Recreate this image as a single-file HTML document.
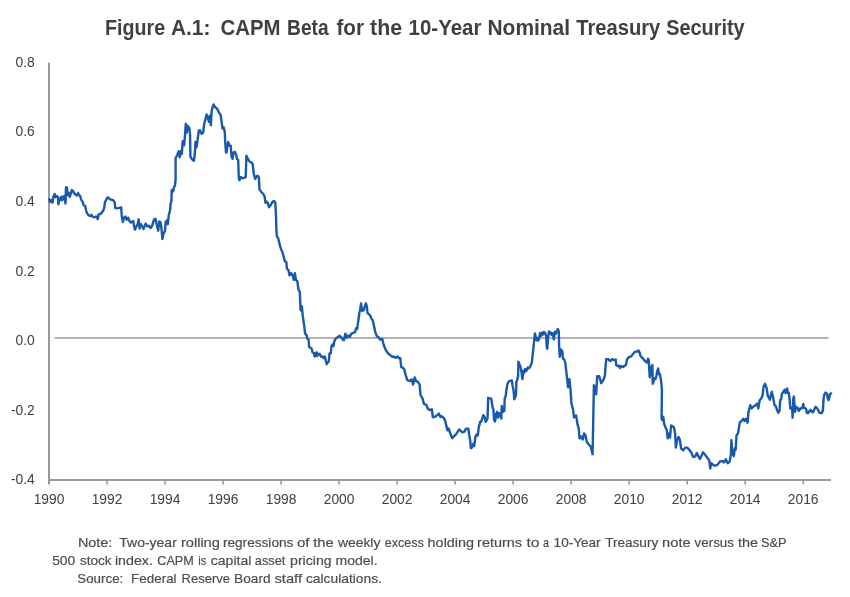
<!DOCTYPE html>
<html><head><meta charset="utf-8">
<style>
html,body{margin:0;padding:0;background:#fff;}
body{width:850px;height:597px;position:relative;overflow:hidden;font-family:"Liberation Sans",sans-serif;}
svg{position:absolute;left:0;top:0;will-change:transform;}
.ax{font-family:"Liberation Sans",sans-serif;font-size:13.8px;fill:#404040;}
.tt{font-family:"Liberation Sans",sans-serif;font-weight:bold;font-size:21.3px;fill:#404040;}
.nt{font-family:"Liberation Sans",sans-serif;font-size:13.5px;fill:#4d4d4d;stroke:#4d4d4d;stroke-width:0.2px;}
</style></head>
<body>
<svg width="850" height="597" viewBox="0 0 850 597">
<text x="105.1" y="35" class="tt" textLength="60.0" lengthAdjust="spacingAndGlyphs">Figure</text>
<text x="170.9" y="35" class="tt" textLength="39.5" lengthAdjust="spacingAndGlyphs">A.1:</text>
<text x="220.6" y="35" class="tt" textLength="60.0" lengthAdjust="spacingAndGlyphs">CAPM</text>
<text x="287.1" y="35" class="tt" textLength="41.5" lengthAdjust="spacingAndGlyphs">Beta</text>
<text x="336.5" y="35" class="tt" textLength="27.5" lengthAdjust="spacingAndGlyphs">for</text>
<text x="370.1" y="35" class="tt" textLength="32.0" lengthAdjust="spacingAndGlyphs">the</text>
<text x="408.5" y="35" class="tt" textLength="73.0" lengthAdjust="spacingAndGlyphs">10-Year</text>
<text x="487.5" y="35" class="tt" textLength="82.5" lengthAdjust="spacingAndGlyphs">Nominal</text>
<text x="576.3" y="35" class="tt" textLength="84.0" lengthAdjust="spacingAndGlyphs">Treasury</text>
<text x="666.2" y="35" class="tt" textLength="78.5" lengthAdjust="spacingAndGlyphs">Security</text>
<line x1="49" y1="62.8" x2="49" y2="484.4" stroke="#999999" stroke-width="2"/>
<line x1="48" y1="480" x2="831" y2="480" stroke="#999999" stroke-width="2"/>
<line x1="107.02" y1="480" x2="107.02" y2="484.4" stroke="#999999" stroke-width="1.6"/>
<line x1="165.03" y1="480" x2="165.03" y2="484.4" stroke="#999999" stroke-width="1.6"/>
<line x1="223.05" y1="480" x2="223.05" y2="484.4" stroke="#999999" stroke-width="1.6"/>
<line x1="281.06" y1="480" x2="281.06" y2="484.4" stroke="#999999" stroke-width="1.6"/>
<line x1="339.08" y1="480" x2="339.08" y2="484.4" stroke="#999999" stroke-width="1.6"/>
<line x1="397.10" y1="480" x2="397.10" y2="484.4" stroke="#999999" stroke-width="1.6"/>
<line x1="455.11" y1="480" x2="455.11" y2="484.4" stroke="#999999" stroke-width="1.6"/>
<line x1="513.13" y1="480" x2="513.13" y2="484.4" stroke="#999999" stroke-width="1.6"/>
<line x1="571.14" y1="480" x2="571.14" y2="484.4" stroke="#999999" stroke-width="1.6"/>
<line x1="629.16" y1="480" x2="629.16" y2="484.4" stroke="#999999" stroke-width="1.6"/>
<line x1="687.18" y1="480" x2="687.18" y2="484.4" stroke="#999999" stroke-width="1.6"/>
<line x1="745.19" y1="480" x2="745.19" y2="484.4" stroke="#999999" stroke-width="1.6"/>
<line x1="803.21" y1="480" x2="803.21" y2="484.4" stroke="#999999" stroke-width="1.6"/>
<line x1="54.6" y1="338" x2="828.6" y2="338" stroke="#b3b3b3" stroke-width="2"/>
<polyline points="49.2,199.3 50,201.8 51.3,200.1 52.5,202.7 53.4,196.8 54.6,193.9 55.5,197.2 56.7,196 58,197.2 58.4,204.3 59.2,198.5 60.5,200.1 61.3,196.8 62.2,200.1 63,196.8 64.3,196 65.5,203.5 66,187.2 67,187.6 67.5,195.1 68.5,192.6 69.7,196.8 70.6,194.3 71.8,190.1 73.1,190.9 74.3,193.4 75.6,194.7 76.9,195.5 78.1,193 79,195.1 80.2,196 81,199.3 82.7,201.8 83.6,205.2 85.2,206 86.1,210.2 86.9,213.1 88.6,215.2 90.3,216.1 91.5,214.8 92.8,216.9 94.5,217.3 96.1,216.5 97.8,219 98.6,214.4 100.3,214 101.6,212.8 103.3,210.6 104.4,206.8 104.9,202.4 106,200.2 107.6,197.2 109.3,198.6 110.9,199.7 113.1,200.2 114.7,202.4 115.2,207.9 116.9,208.4 119.1,207.9 121.2,207.3 121.8,216.6 122.9,222 124,217.7 125.6,216.6 126.7,219.8 128.3,217.7 129.4,220.9 131,222.6 133.2,220.9 134.8,229.6 136.5,226.4 137.6,224.2 138.7,219.3 139.7,228.5 140.8,224.2 142.5,226.4 143.5,229.1 145.7,223.6 147.4,226.4 149,225.8 150.6,228 152.3,225.3 153.9,219.8 155.5,218.8 156.6,224.2 158.2,230.7 159.3,221.5 160.4,222 161.5,228.5 162.4,239.1 163.6,233.4 165,231.2 165.7,222 166.8,220.6 167.8,224.1 168.8,214.9 170,210.6 170.7,203.5 171.4,200.6 171.8,189.9 173.1,191.4 174,187.1 175,185.7 175.6,179.2 175.6,158 177.4,154.7 178.7,151.3 179.7,157.3 180.7,151.3 181.8,154 182.7,141.2 184.1,145.3 185,135.2 185.8,123.8 186.8,132.5 187.7,125.8 189.4,128.5 190.1,135.2 190.4,156.7 192.1,159.3 193.9,160.7 194.8,154 195.5,141.9 196.5,147.3 197.5,140.6 198.8,130.5 200.2,130.5 201.5,133.9 203.2,132.5 204.2,123.8 205.5,119.1 206.5,114.4 207.8,117.8 208.9,121.8 209.8,115.8 210.9,125.2 211.6,111.1 212.6,107.1 213.6,104.4 214.9,107.1 216.9,108.4 218.9,112.4 220.7,115.1 221.6,121.8 222.5,128.5 223.6,127.2 224.7,131.2 225.2,141.9 226,152.6 226.5,152.6 228.1,141.9 229.4,145.7 230.7,145.7 231.5,156.3 232.5,158.8 233.5,152.6 235,151.9 236.3,155.1 236.9,158.8 238.2,160.1 238.8,177.7 239.4,180.2 240.7,177.1 242.6,178.3 244.5,177.7 245.7,177.1 246.4,155.7 247.6,158.2 248.9,160.7 250.1,162 251.6,162.6 252.6,163.9 253.9,174.5 255.2,178.9 256.4,176.4 257.9,175.8 258.9,177.7 259.5,189.6 261.4,192.1 263.3,194 264.6,196.5 265.5,202.8 266.5,201.6 267.7,202.8 269,207.2 270.9,204.7 272.7,201.6 274,201 275.3,203 276,215.1 276.3,227.1 276.8,236.2 278.3,238.4 279.8,245.2 281.3,249.8 282.4,252 283.6,256.5 284.8,261.1 286.3,261.8 286.9,268.6 288.4,270.1 289.6,275.4 291.1,273.1 292.6,275.4 293.8,279.9 294.9,273.1 295.9,279.9 297.4,281.4 298.3,289 299.8,292.1 300.6,310.2 301.8,306.4 302.8,316.2 304.3,326.7 304.7,330 305,333.4 306.7,335.4 307.4,338.7 308.7,340 309,346.8 310.7,348.1 311.7,348.8 312.4,352.1 313.7,353.1 314.7,356.5 315.7,352.8 316.8,352.4 317.1,356.1 318.1,354.1 319.4,353.8 320.1,354.8 321.1,356.8 322.4,356.5 323.5,358.1 324.8,356.5 325.8,360.8 326.7,364.2 327.8,362.2 328.8,361.5 329.5,353.5 330.8,353.1 331.5,346.1 332.5,344.4 333.5,346.1 334.2,341.7 334.8,340.4 336.2,338 337.5,337.4 339.2,336 339.8,335.8 341.3,337.3 342.8,339.6 343.8,340.3 345.4,333.6 346.7,337.6 348.3,335.6 349.7,336.9 351.4,333.6 353.4,332.9 355,332.2 356.1,328.2 357.2,328.9 358.1,322.2 359.4,312.8 360.1,310.1 361,303.4 362.1,310.8 363.9,310.1 364.8,306.1 365.9,303.4 366.8,306.1 367.5,312.8 368.8,314.1 370.2,315.5 371.5,318.8 372.8,320.2 374.2,326.9 375.5,332.9 376.9,336.2 378.9,337.6 380.2,339.6 382.2,338.9 383.2,343 384.2,346.3 385.6,349.7 386.9,351.7 388.3,353.7 390.3,355 392.3,357 393.6,356.4 395.6,357.7 397.6,356.4 399,358.2 400.3,358.2 401.2,367 402.9,367.9 404.1,368.7 405.6,374.9 407.3,380.2 410,381.1 411.7,379.3 413.1,384.6 414.7,377.5 416.1,381.1 417.9,381.9 419.6,384.6 420.5,395.1 422.3,397.8 424,403.9 426.3,404.8 428.1,409.2 430.2,410.1 431.9,409.2 432.8,417.1 434.6,417.1 437.2,415.3 439,413.6 440.4,417.1 441.6,416.2 443.9,418 445.1,420.6 446.4,425.9 447.4,430.3 448.6,428.5 450.4,433.8 452.2,438.2 453.9,436.4 455.7,434.7 457.4,432.1 459.2,429.4 460,430.1 462.3,432.4 464.5,431.6 466,428.6 468.3,428.6 469.3,435.4 470.3,441.4 470.9,448.2 472.1,447.4 473.3,443.7 474.3,445.9 475.4,436.9 476.6,434.6 477.8,435.4 478.8,427.1 479.9,423.3 480,421.9 481.1,421.8 482.3,418.5 483.3,415.2 484.6,416.8 485.7,421.9 486.7,420.2 487.5,418.5 488.2,397.6 489.2,398.4 490.5,398.4 491.3,398.8 492.6,407.6 493.4,409.3 494.1,420.2 495.1,421.4 496.3,413.5 497.2,411.8 498,417.7 499.2,413.1 500.5,415.2 501.3,418.5 501.8,406 503,411.8 504.3,411 504.7,398.4 505.5,396.8 506.8,387.6 507.6,383.4 508.9,381.3 510.1,380.9 511.8,380.4 512.6,385.9 513.5,390.1 514.3,399.3 515.1,397.6 516,395.1 516.4,381.7 517.2,380 518.1,375.8 518.4,361.6 519.7,364.9 520.6,366.9 521.7,373.6 522.4,379 523.3,370.9 524.1,372.9 525.1,368.9 526.4,370.9 527.7,367.6 529.1,368.3 530.4,366.2 531.8,362.9 533.1,350.8 534.4,338 535,333.4 535.8,337.5 536.5,340.2 537.3,337.8 538.2,340.5 539.2,338.2 540,333.2 541,336 542,332.6 543,334.5 544,332 545.2,333.2 546.2,336 546.8,347.5 547.3,348.8 547.9,340 548.3,336 549,331.4 550,333.5 550.8,332.5 551.6,334.8 552.4,333.2 553.2,335.5 553.8,339.4 554.8,332 555.6,334 556.5,331.7 557.8,329 558.8,331.4 559.1,345.5 559.8,356.9 560.8,349.5 561.4,352.2 562.2,350.8 563,358.5 564.3,359.5 565.3,362.9 566.6,374.2 568,387.2 569.4,379.2 570.6,390.3 571.4,403.3 573,409.3 574,417.4 576.1,415.4 577.5,424.4 578.7,428.4 579.5,438.5 581.1,436.5 582.7,439.5 584.1,433.5 585.5,435.5 586.7,441.5 588.7,444.5 590.7,446.5 592.6,454.2 593.9,385.2 594.7,387.2 596.2,394.3 597.2,376.2 599.2,376.2 601.2,383.2 603.2,380.2 604.8,376.2 606.2,359.1 608.2,359.1 610.2,361.1 612.2,359.1 614.2,360.1 615.8,359.6 616.2,365.1 617.5,366.1 619,365.6 620,368.1 621.5,366.1 623,367.1 624.5,366.1 626.1,364.6 626.9,359.6 628.1,358.1 629.6,356.6 631.1,356.6 632.6,354.6 634.1,352.6 635.6,351.6 637.1,351.6 638.6,350.6 639.6,352.6 640.6,356.1 641.6,357.1 643.1,358.6 644.6,360.6 646.2,362.1 647.2,362.6 648,358.6 648.7,360.1 649.2,368.1 649.7,377.2 650.7,373.2 651.7,366.1 652.4,365.1 652.7,383.7 653.7,381.2 654.7,378.2 655.7,378.7 656.4,375.7 657.2,371.2 658.2,368.6 658.9,374.2 659.7,373.7 660.7,378.2 661.4,383.7 661.9,390.3 661.6,418.8 662.4,420.2 663.3,416.8 664.1,423.5 665.5,427.5 666.8,430.2 667.7,438.3 669.1,433.6 670,437.6 671.1,425.5 672.4,426.2 674,427.5 675.1,432.9 675.8,447.6 677.1,440.3 678.5,436.9 679.8,439.6 681.1,448.3 683.2,450.3 685.2,447.6 687.2,447.6 689.2,449.7 691.2,452.3 693.2,457 695.2,456.4 696.8,453 698.2,455.7 699.9,459 701.2,456.4 703,452.3 705.3,455 707.3,457.7 709.3,460.4 710.2,468.4 711.3,463.1 713.3,465.1 715.3,465.7 717.4,464.9 719.8,461.7 722.2,460.9 723.8,462.5 725.8,459.3 727.7,463.3 729.6,461.7 730.9,454.6 731.4,440.2 732.5,453.8 733.8,456.2 734.9,448.2 735.7,449.8 736.5,435.5 738.1,433.1 739.7,422.7 741.3,421.1 743.3,418.8 744.4,421.1 746,418.8 747.6,422.7 748.4,412.4 750.3,405.2 751.6,408.4 753.2,406.8 755.6,405.2 757.2,403.6 758.3,408.4 759.6,400.5 761.5,398.1 762.7,394.9 763.5,386.9 765.1,383.8 766.7,388.5 767.8,395.7 769.9,399.7 770.8,395.1 771.8,391.8 772.9,396.8 773.8,401 774.6,405.2 775.9,406.4 777.1,410.2 778.4,412.7 779.6,410.2 780.2,400.1 781.1,399.3 782.1,393.4 783.4,391.8 784.7,389.7 785.5,393 786.3,389.7 787.2,388.4 787.8,393 788.8,393 789.7,400.1 790.3,408.5 791.4,407.7 792.2,408.5 792.6,417.7 793.3,398.5 793.9,396.4 794.5,405.2 795.1,411.9 796,406.8 796.8,408.1 797.6,407.7 798.9,411 800.2,408.5 801.4,408.5 802.7,406.8 803.3,403.9 803.9,408.1 805.2,408.1 806.2,409.3 806.9,413.1 808.1,413.1 809.4,411 810.6,409.8 811.9,411.9 813.1,412.3 814.4,409.3 815.6,406.8 816.9,408.1 818.2,410.2 819.4,412.7 820.7,413.1 821.9,413.1 822.9,410.2 823.6,398.5 824.4,394.3 825.7,392.6 827,393.8 827.8,398.5 828.6,400.1 829.6,395.9 830.3,393.8 831.1,393.4" fill="none" stroke="#1859ab" stroke-width="2.4" stroke-linejoin="round" stroke-linecap="round"/>
<text x="34.8" y="66.8" text-anchor="end" class="ax">0.8</text>
<text x="34.8" y="136.2" text-anchor="end" class="ax">0.6</text>
<text x="34.8" y="206.0" text-anchor="end" class="ax">0.4</text>
<text x="34.8" y="275.9" text-anchor="end" class="ax">0.2</text>
<text x="34.8" y="345.2" text-anchor="end" class="ax">0.0</text>
<text x="34.8" y="414.9" text-anchor="end" class="ax">-0.2</text>
<text x="34.8" y="484.4" text-anchor="end" class="ax">-0.4</text>
<text x="49.00" y="503.8" text-anchor="middle" class="ax">1990</text>
<text x="107.02" y="503.8" text-anchor="middle" class="ax">1992</text>
<text x="165.03" y="503.8" text-anchor="middle" class="ax">1994</text>
<text x="223.05" y="503.8" text-anchor="middle" class="ax">1996</text>
<text x="281.06" y="503.8" text-anchor="middle" class="ax">1998</text>
<text x="339.08" y="503.8" text-anchor="middle" class="ax">2000</text>
<text x="397.10" y="503.8" text-anchor="middle" class="ax">2002</text>
<text x="455.11" y="503.8" text-anchor="middle" class="ax">2004</text>
<text x="513.13" y="503.8" text-anchor="middle" class="ax">2006</text>
<text x="571.14" y="503.8" text-anchor="middle" class="ax">2008</text>
<text x="629.16" y="503.8" text-anchor="middle" class="ax">2010</text>
<text x="687.18" y="503.8" text-anchor="middle" class="ax">2012</text>
<text x="745.19" y="503.8" text-anchor="middle" class="ax">2014</text>
<text x="803.21" y="503.8" text-anchor="middle" class="ax">2016</text>
<text x="77.9" y="546.6" class="nt" textLength="34.5" lengthAdjust="spacingAndGlyphs">Note:</text>
<text x="119.3" y="546.6" class="nt" textLength="57.5" lengthAdjust="spacingAndGlyphs">Two-year</text>
<text x="180.9" y="546.6" class="nt" textLength="39.0" lengthAdjust="spacingAndGlyphs">rolling</text>
<text x="222.9" y="546.6" class="nt" textLength="70.5" lengthAdjust="spacingAndGlyphs">regressions</text>
<text x="296.9" y="546.6" class="nt" textLength="12.5" lengthAdjust="spacingAndGlyphs">of</text>
<text x="313.2" y="546.6" class="nt" textLength="20.5" lengthAdjust="spacingAndGlyphs">the</text>
<text x="337.9" y="546.6" class="nt" textLength="42.5" lengthAdjust="spacingAndGlyphs">weekly</text>
<text x="384.8" y="546.6" class="nt" textLength="39.0" lengthAdjust="spacingAndGlyphs">excess</text>
<text x="427.6" y="546.6" class="nt" textLength="46.5" lengthAdjust="spacingAndGlyphs">holding</text>
<text x="477.1" y="546.6" class="nt" textLength="45.0" lengthAdjust="spacingAndGlyphs">returns</text>
<text x="526.4" y="546.6" class="nt" textLength="13.0" lengthAdjust="spacingAndGlyphs">to</text>
<text x="543.0" y="546.6" class="nt" textLength="6.0" lengthAdjust="spacingAndGlyphs">a</text>
<text x="553.6" y="546.6" class="nt" textLength="47.0" lengthAdjust="spacingAndGlyphs">10-Year</text>
<text x="605.2" y="546.6" class="nt" textLength="53.0" lengthAdjust="spacingAndGlyphs">Treasury</text>
<text x="662.1" y="546.6" class="nt" textLength="28.5" lengthAdjust="spacingAndGlyphs">note</text>
<text x="694.5" y="546.6" class="nt" textLength="39.5" lengthAdjust="spacingAndGlyphs">versus</text>
<text x="738.1" y="546.6" class="nt" textLength="20.0" lengthAdjust="spacingAndGlyphs">the</text>
<text x="761.1" y="546.6" class="nt" textLength="25.5" lengthAdjust="spacingAndGlyphs">S&amp;P</text>
<text x="52.2" y="565" class="nt" textLength="23.0" lengthAdjust="spacingAndGlyphs">500</text>
<text x="79.9" y="565" class="nt" textLength="31.5" lengthAdjust="spacingAndGlyphs">stock</text>
<text x="114.9" y="565" class="nt" textLength="38.0" lengthAdjust="spacingAndGlyphs">index.</text>
<text x="157.3" y="565" class="nt" textLength="36.5" lengthAdjust="spacingAndGlyphs">CAPM</text>
<text x="198.2" y="565" class="nt" textLength="8.0" lengthAdjust="spacingAndGlyphs">is</text>
<text x="210.8" y="565" class="nt" textLength="40.5" lengthAdjust="spacingAndGlyphs">capital</text>
<text x="254.8" y="565" class="nt" textLength="30.5" lengthAdjust="spacingAndGlyphs">asset</text>
<text x="290.1" y="565" class="nt" textLength="41.5" lengthAdjust="spacingAndGlyphs">pricing</text>
<text x="335.6" y="565" class="nt" textLength="42.0" lengthAdjust="spacingAndGlyphs">model.</text>
<text x="77.3" y="583.3" class="nt" textLength="46.0" lengthAdjust="spacingAndGlyphs">Source:</text>
<text x="131.1" y="583.3" class="nt" textLength="45.5" lengthAdjust="spacingAndGlyphs">Federal</text>
<text x="181.5" y="583.3" class="nt" textLength="48.5" lengthAdjust="spacingAndGlyphs">Reserve</text>
<text x="234.1" y="583.3" class="nt" textLength="36.5" lengthAdjust="spacingAndGlyphs">Board</text>
<text x="274.5" y="583.3" class="nt" textLength="27.5" lengthAdjust="spacingAndGlyphs">staff</text>
<text x="305.9" y="583.3" class="nt" textLength="76.0" lengthAdjust="spacingAndGlyphs">calculations.</text>
</svg>
</body></html>
